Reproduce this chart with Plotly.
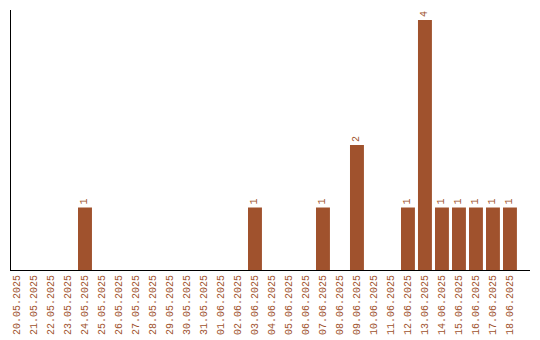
import plotly.graph_objects as go

dates = ["20.05.2025","21.05.2025","22.05.2025","23.05.2025","24.05.2025","25.05.2025",
         "26.05.2025","27.05.2025","28.05.2025","29.05.2025","30.05.2025","31.05.2025",
         "01.06.2025","02.06.2025","03.06.2025","04.06.2025","05.06.2025","06.06.2025",
         "07.06.2025","08.06.2025","09.06.2025","10.06.2025","11.06.2025","12.06.2025",
         "13.06.2025","14.06.2025","15.06.2025","16.06.2025","17.06.2025","18.06.2025"]
counts = [0,0,0,0,1,0,0,0,0,0,0,0,0,0,1,0,0,0,1,0,2,0,0,1,4,1,1,1,1,1]

color = "#A0522D"
labels = [str(v) if v > 0 else "" for v in counts]
fnt = "Liberation Mono"

fig = go.Figure(go.Bar(
    x=dates, y=counts, marker_color=color, marker_line_width=0,
    text=labels, textposition="outside", textangle=-90,
    textfont=dict(family=fnt, size=10, color=color),
    cliponaxis=False,
))
fig.update_layout(
    width=540, height=340,
    margin=dict(l=11, r=10, t=10, b=70, autoexpand=False),
    paper_bgcolor="white", plot_bgcolor="white",
    bargap=0.18, showlegend=False,
    font=dict(family=fnt, size=10, color=color),
)
fig.update_xaxes(
    type="category", range=[-0.353, 30.18], tickangle=-90, automargin=False,
    showline=True, linecolor="black", linewidth=1,
    showgrid=False, ticks="", tickfont=dict(family=fnt, size=10, color=color),
)
fig.update_yaxes(
    range=[0, 4.16], showline=True, linecolor="black", linewidth=1, automargin=False,
    showgrid=False, showticklabels=False, ticks="", zeroline=False,
)
fig.write_html("out.html")
